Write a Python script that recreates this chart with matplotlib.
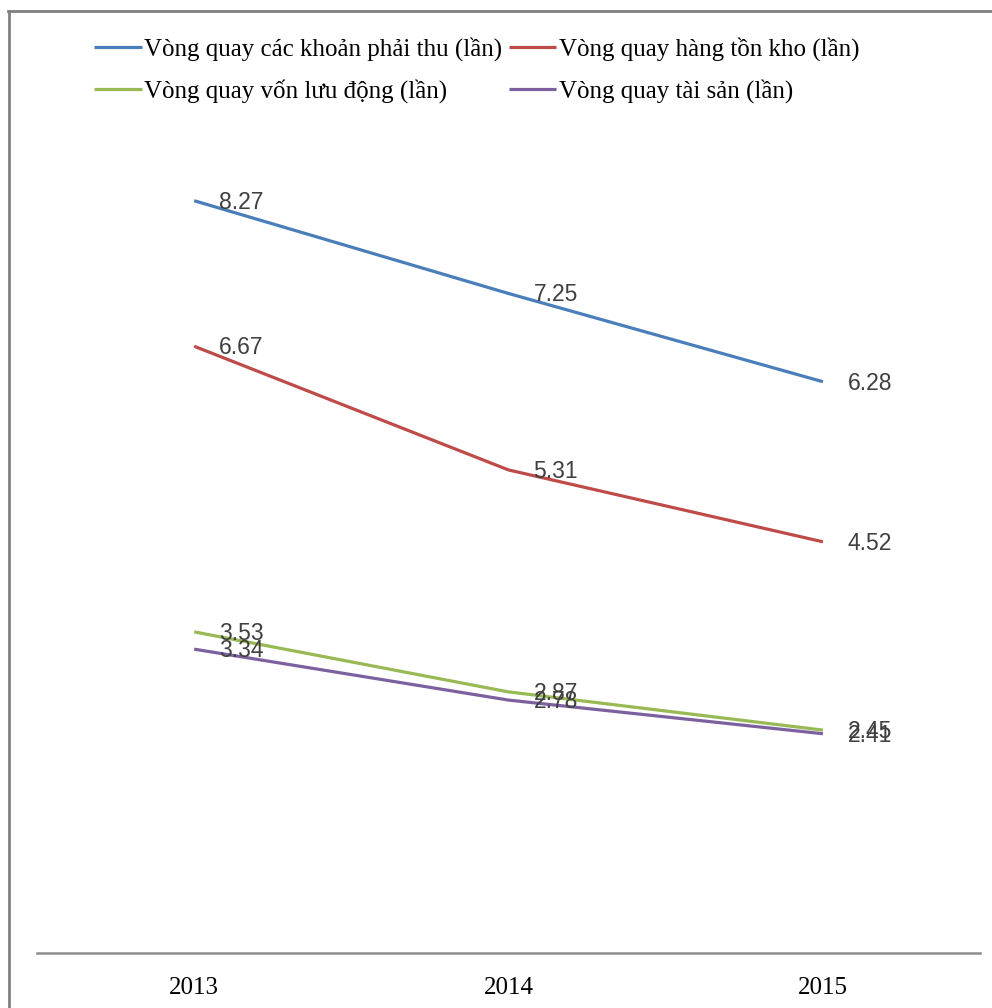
import matplotlib
matplotlib.use("Agg")
import matplotlib.pyplot as plt
from matplotlib.lines import Line2D

years = ["2013", "2014", "2015"]
series_names = [
    "Vòng quay các khoản phải thu (lần)",
    "Vòng quay hàng tồn kho (lần)",
    "Vòng quay vốn lưu động (lần)",
    "Vòng quay tài sản (lần)",
]
receivables = [8.27, 7.25, 6.28]
inventory = [6.67, 5.31, 4.52]
working_capital = [3.53, 2.87, 2.45]
assets = [3.34, 2.78, 2.41]
series_values = [receivables, inventory, working_capital, assets]
colors = ["#4A7EBB", "#BE4B48", "#98B954", "#7D60A0"]

fig = plt.figure(figsize=(9.92, 10.08), dpi=100)
ax = fig.add_axes([0.0373, 0.0546, 0.9507, 0.9024])

x = list(range(len(years)))
handles = []
for name, vals, c in zip(series_names, series_values, colors):
    h, = ax.plot(x, vals, color=c, lw=2.3, solid_capstyle="butt", label=name)
    handles.append(h)
    for xi, v in zip(x, vals):
        ax.annotate(f"{v:.2f}", (xi, v), xytext=(18, -1), textcoords="offset points",
                    ha="left", va="center", fontsize=16.5, color="#404040",
                    family="Liberation Sans")

ax.set_xlim(-0.5, 2.5)
ax.set_ylim(0, 10)
ax.set_xticks(x)
ax.set_xticklabels(years, family="Liberation Serif", fontsize=18, color="#000000")
ax.tick_params(axis="x", length=0, pad=17)
ax.set_yticks([])
for s in ["left", "right", "top"]:
    ax.spines[s].set_visible(False)
ax.spines["bottom"].set_color("#8C8C8C")
ax.spines["bottom"].set_linewidth(1.8)

# legend: order row-wise (col1: receivables, working; col2: inventory, assets)
order = [0, 2, 1, 3]
leg = fig.legend([handles[i] for i in order], [series_names[i] for i in order],
                 ncol=2, loc="upper left", bbox_to_anchor=(0.095, 0.963),
                 frameon=False, prop={"family": "Liberation Serif", "size": 18},
                 handlelength=1.9, handletextpad=0.1, columnspacing=0.25,
                 labelspacing=0.72, borderpad=0, borderaxespad=0)

# outer border (left & top)
fig.add_artist(Line2D([0.009, 0.009], [0.0, 0.989], transform=fig.transFigure,
                      color="#808080", lw=2))
fig.add_artist(Line2D([0.008, 1.0], [0.989, 0.989], transform=fig.transFigure,
                      color="#808080", lw=2))

fig.savefig("out.png", dpi=100)
